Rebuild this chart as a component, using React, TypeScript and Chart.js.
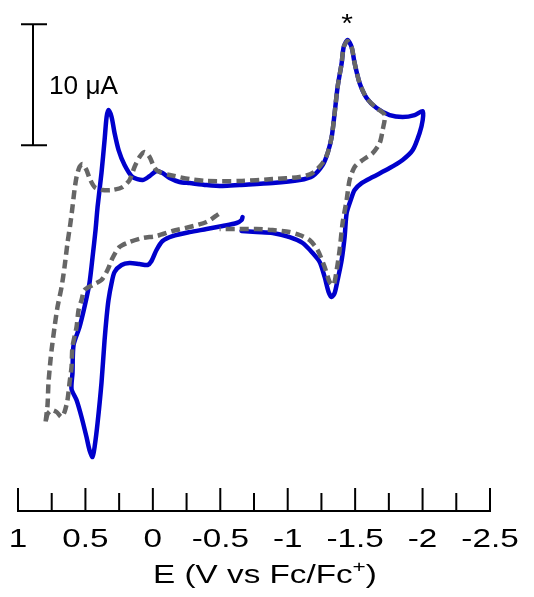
import React, { useEffect, useRef } from "react";
import { Chart, registerables } from "chart.js";

Chart.register(...registerables);

// Potential axis (V vs Fc/Fc+), reversed: positive on the left
const axisMin = -2.5;
const axisMax = 1;
const majorTicks = [1, 0.5, 0, -0.5, -1, -1.5, -2, -2.5];
const minorTicks = [0.75, 0.25, -0.25, -0.75, -1.25, -1.75, -2.25];
const tickLabels = ["1", "0.5", "0", "-0.5", "-1", "-1.5", "-2", "-2.5"];

// Current axis range (µA), hidden; a 10 µA scale bar is drawn instead
const currentMin = -23.22;
const currentMax = 19.01;
const scaleBarTop = 17.0;
const scaleBarSize = 10;
const starPotential = -1.44;

// Blue solid CV: potential (V) and current (µA)
const blueE = [
  -0.665, -0.658, -0.621, -0.517, -0.398, -0.272, -0.146, -0.072, -0.027, 0.010,
  0.039, 0.099, 0.173, 0.232, 0.284, 0.306, 0.329, 0.343, 0.358, 0.381,
  0.410, 0.432, 0.447, 0.470, 0.492, 0.529, 0.566, 0.603, 0.596, 0.588,
  0.544, 0.507, 0.470, 0.447, 0.425, 0.410, 0.381, 0.358, 0.343, 0.329,
  0.306, 0.284, 0.254, 0.210, 0.151, 0.076, 0.024, -0.027, -0.072, -0.124,
  -0.198, -0.272, -0.398, -0.517, -0.643, -0.888, -1.088, -1.185, -1.259, -1.296,
  -1.326, -1.348, -1.370, -1.400, -1.415, -1.444, -1.474, -1.496, -1.533, -1.585,
  -1.659, -1.756, -1.852, -1.941, -2.001, -2.001, -1.978, -1.927, -1.852, -1.756,
  -1.630, -1.548, -1.496, -1.467, -1.437, -1.422, -1.400, -1.370, -1.348, -1.326,
  -1.303, -1.274, -1.237, -1.185, -1.111, -1.014, -0.888, -0.769, -0.658,
];
const blueI = [
  1.07, 0.83, 0.58, 0.33, 0.08, -0.17, -0.50, -0.91, -1.65, -2.56,
  -2.89, -2.81, -2.73, -2.89, -3.47, -4.38, -5.79, -7.19, -9.09, -12.64,
  -15.95, -17.93, -18.76, -18.18, -17.11, -15.45, -14.05, -13.14, -11.82, -9.50,
  -8.02, -6.36, -4.38, -2.23, 0, 1.90, 4.71, 7.44, 9.34, 9.92,
  9.34, 8.02, 6.61, 5.37, 4.38, 4.13, 4.46, 4.88, 4.71, 4.30,
  3.97, 3.88, 3.72, 3.64, 3.72, 3.88, 4.13, 4.46, 5.37, 6.36,
  7.69, 9.67, 11.82, 13.80, 15.12, 15.70, 15.12, 13.80, 12.15, 10.91,
  10.08, 9.50, 9.34, 9.50, 9.83, 9.09, 8.02, 6.61, 5.79, 5.12,
  4.38, 3.88, 3.31, 2.48, 1.40, -0.58, -2.48, -4.13, -5.21, -5.54,
  -5.12, -3.88, -2.64, -1.90, -1.07, -0.58, -0.25, -0.17, -0.08,
];

// Grey dashed CV: potential (V) and current (µA)
const greyE = [
  -0.487, -0.398, -0.272, -0.146, -0.027, 0.076, 0.173, 0.247, 0.299, 0.336,
  0.381, 0.447, 0.507, 0.529, 0.551, 0.566, 0.596, 0.603, 0.618, 0.633,
  0.655, 0.677, 0.714, 0.751, 0.781, 0.796, 0.781, 0.774, 0.759, 0.751,
  0.729, 0.707, 0.677, 0.655, 0.633, 0.611, 0.596, 0.581, 0.566, 0.544,
  0.522, 0.492, 0.470, 0.432, 0.373, 0.299, 0.225, 0.173, 0.136, 0.099,
  0.062, 0.024, -0.013, -0.050, -0.124, -0.272, -0.398, -0.643, -0.888, -1.088,
  -1.185, -1.259,
  -1.296, -1.326, -1.348, -1.370, -1.400, -1.415, -1.444, -1.474, -1.496, -1.533, -1.585, -1.659,
  -1.719, -1.704, -1.682, -1.630, -1.556, -1.496, -1.459, -1.437, -1.407, -1.385, -1.363,
  -1.340, -1.311, -1.274, -1.222, -1.162, -1.088, -1.014, -0.888, -0.769, -0.643, -0.495,
];
const greyI = [
  1.32, 0.66, 0.25, -0.08, -0.50, -0.66, -0.99, -1.40, -2.31, -3.31,
  -4.13, -4.55, -4.96, -5.79, -6.61, -8.02, -9.67, -11.32, -12.64, -14.05,
  -15.04, -15.45, -15.04, -14.88, -15.21, -15.95, -14.46, -12.64, -10.74, -9.92,
  -8.02, -6.36, -4.71, -3.06, -1.07, 0.58, 1.90, 3.31, 4.38, 5.21,
  5.45, 4.96, 4.30, 3.55, 3.31, 3.31, 3.55, 4.13, 5.21, 6.03,
  6.45, 6.03, 5.12, 4.79, 4.55, 4.21, 4.05, 4.05, 4.21, 4.38,
  4.71, 5.54,
  6.36, 7.69, 9.67, 11.82, 13.80, 15.12, 15.62, 15.12, 13.80, 12.15, 10.91, 10.08,
  9.50, 8.26, 7.19, 6.36, 5.79, 5.21, 4.13, 2.48, 0.58, -1.65, -3.31,
  -4.55, -4.30, -3.06, -1.65, -0.83, -0.41, -0.17, 0, 0.08, 0.08, 0.08,
];

const FONT = '"Liberation Sans", Arial, Helvetica, sans-serif';

function stretchText(ctx: CanvasRenderingContext2D, text: string, x: number, y: number, sx: number) {
  ctx.save();
  ctx.translate(x, y);
  ctx.scale(sx, 1);
  ctx.fillText(text, 0, 0);
  ctx.restore();
}

const overlayPlugin = {
  id: "cvOverlay",
  afterDraw(chart: any) {
    const ctx: CanvasRenderingContext2D = chart.ctx;
    const xs = chart.scales.x;
    const ys = chart.scales.y;
    const axisY = chart.chartArea.bottom;
    ctx.save();
    ctx.strokeStyle = "#000";
    ctx.fillStyle = "#000";
    ctx.lineWidth = 2;
    ctx.lineCap = "butt";

    // axis line and ticks
    ctx.beginPath();
    ctx.moveTo(xs.getPixelForValue(axisMax) - 1, axisY);
    ctx.lineTo(xs.getPixelForValue(axisMin) + 1, axisY);
    majorTicks.forEach((v) => {
      const px = xs.getPixelForValue(v);
      ctx.moveTo(px, axisY + 1);
      ctx.lineTo(px, axisY - 23);
    });
    minorTicks.forEach((v) => {
      const px = xs.getPixelForValue(v);
      ctx.moveTo(px, axisY + 1);
      ctx.lineTo(px, axisY - 18);
    });
    ctx.stroke();

    // tick labels
    ctx.font = `25px ${FONT}`;
    ctx.textAlign = "center";
    ctx.textBaseline = "alphabetic";
    tickLabels.forEach((t, i) => {
      stretchText(ctx, t, xs.getPixelForValue(majorTicks[i]), axisY + 36, 1.33);
    });

    // axis title with superscript +
    const sx = 1.33;
    const main = "E (V vs Fc/Fc";
    const sup = "+";
    const close = ")";
    ctx.textAlign = "left";
    ctx.font = `25px ${FONT}`;
    const w1 = ctx.measureText(main).width * sx;
    const w3 = ctx.measureText(close).width * sx;
    ctx.font = `17px ${FONT}`;
    const w2 = ctx.measureText(sup).width * sx;
    const total = w1 + w2 + w3;
    const cx = 265;
    const base = axisY + 72;
    const x0 = cx - total / 2;
    ctx.font = `25px ${FONT}`;
    stretchText(ctx, main, x0, base, sx);
    ctx.font = `17px ${FONT}`;
    stretchText(ctx, sup, x0 + w1, base - 11, sx);
    ctx.font = `25px ${FONT}`;
    stretchText(ctx, close, x0 + w1 + w2, base, sx);

    // scale bar
    const yTop = ys.getPixelForValue(scaleBarTop);
    const yBot = ys.getPixelForValue(scaleBarTop - scaleBarSize);
    ctx.beginPath();
    ctx.moveTo(33, yTop);
    ctx.lineTo(33, yBot);
    ctx.moveTo(21, yTop);
    ctx.lineTo(47, yTop);
    ctx.moveTo(21, yBot);
    ctx.lineTo(47, yBot);
    ctx.stroke();
    ctx.font = `25px ${FONT}`;
    ctx.textAlign = "left";
    stretchText(ctx, "10 \u03bcA", 49, (yTop + yBot) / 2 + 9, 1.05);

    // asterisk over the peak
    ctx.textAlign = "center";
    stretchText(ctx, "*", xs.getPixelForValue(starPotential), 32, 1.2);
    ctx.restore();
  },
};

export default function App() {
  const canvasRef = useRef<HTMLCanvasElement | null>(null);

  useEffect(() => {
    if (!canvasRef.current) return;
    const chart = new Chart(canvasRef.current, {
      type: "scatter",
      data: {
        datasets: [
          {
            label: "dashed",
            data: greyE.map((x, i) => ({ x, y: greyI[i] })),
            showLine: true,
            borderColor: "#666666",
            borderWidth: 4.5,
            borderDash: [9, 5],
            borderCapStyle: "butt",
            pointRadius: 0,
            tension: 0.25,
            fill: false,
            order: 0,
          },
          {
            label: "solid",
            data: blueE.map((x, i) => ({ x, y: blueI[i] })),
            showLine: true,
            borderColor: "#0000cc",
            borderWidth: 4.5,
            borderCapStyle: "round",
            borderJoinStyle: "round",
            pointRadius: 0,
            tension: 0.25,
            fill: false,
            order: 1,
          },
        ],
      } as any,
      options: {
        animation: false,
        responsive: true,
        maintainAspectRatio: false,
        layout: { padding: { left: 18, right: 44, top: 0, bottom: 86 } },
        scales: {
          x: { type: "linear", reverse: true, min: axisMin, max: axisMax, display: false },
          y: { type: "linear", min: currentMin, max: currentMax, display: false },
        },
        plugins: { legend: { display: false }, tooltip: { enabled: false } },
      } as any,
      plugins: [overlayPlugin],
    });
    return () => chart.destroy();
  }, []);

  return (
    <div style={{ position: "fixed", left: 0, top: 0, width: 534, height: 597, background: "#fff" }}>
      <canvas ref={canvasRef} />
    </div>
  );
}
